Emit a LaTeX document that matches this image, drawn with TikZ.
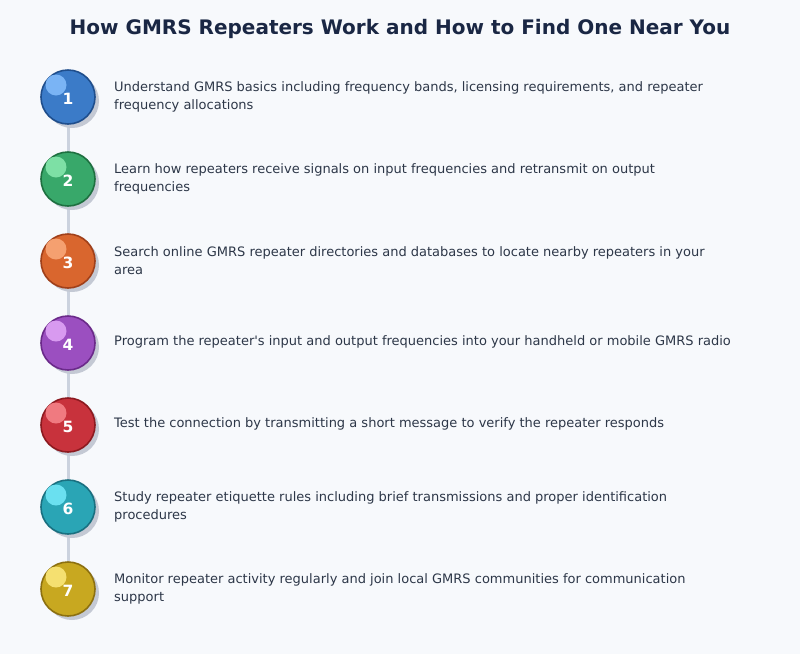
\documentclass[tikz,border=0pt]{standalone}
\usepackage{fontspec}
\setmainfont{DejaVu Sans}
\definecolor{bg}{HTML}{F7F9FC}
\definecolor{titlec}{HTML}{1A2744}
\definecolor{txtc}{HTML}{2D3748}
\definecolor{linec}{HTML}{CBD2DE}
\definecolor{shadowc}{HTML}{C4C9D4}
\definecolor{f1}{HTML}{3B7BC8}\definecolor{b1}{HTML}{1F4E8C}\definecolor{h1}{HTML}{7AB4F5}
\definecolor{f2}{HTML}{38A86A}\definecolor{b2}{HTML}{1E7040}\definecolor{h2}{HTML}{7DE0A5}
\definecolor{f3}{HTML}{D9662E}\definecolor{b3}{HTML}{A0401A}\definecolor{h3}{HTML}{F5A070}
\definecolor{f4}{HTML}{9B4FC0}\definecolor{b4}{HTML}{6B2A8A}\definecolor{h4}{HTML}{D89AF0}
\definecolor{f5}{HTML}{C8323C}\definecolor{b5}{HTML}{8C1A20}\definecolor{h5}{HTML}{F07A80}
\definecolor{f6}{HTML}{2AA5B5}\definecolor{b6}{HTML}{1A7080}\definecolor{h6}{HTML}{6AE0F0}
\definecolor{f7}{HTML}{C8A820}\definecolor{b7}{HTML}{8C7010}\definecolor{h7}{HTML}{F5E070}
\begin{document}
\begin{tikzpicture}[x=1pt,y=-1pt,
  stepcircle/.style={circle,minimum size=54pt,inner sep=0pt,line width=1.6pt},
  shadowcircle/.style={circle,minimum size=54pt,inner sep=0pt,fill=shadowc},
  hilite/.style={circle,minimum size=21pt,inner sep=0pt},
  numlabel/.style={text=white,font=\bfseries\fontsize{15.5}{17}\selectfont},
  steptext/.style={anchor=west,align=left,text=txtc,font=\fontsize{13}{18}\selectfont,inner sep=0pt},
  connector/.style={draw=linec,line width=3pt}]
\useasboundingbox[fill=bg] (0,0) rectangle (800,654);
\node[text=titlec,font=\bfseries\fontsize{20}{23}\selectfont] (title) at (400,28.5) {How GMRS Repeaters Work and How to Find One Near You};
\foreach \i/\y in {1/97,2/179,3/261,4/343,5/425,6/507,7/589}{
  \coordinate (c\i) at (68,\y);
}
\draw[connector] (c1) -- (c7);
\foreach \i in {1,...,7}{
  \node[shadowcircle] (s\i) at ([shift={(4,4)}]c\i) {};
  \node[stepcircle,fill=f\i,draw=b\i] (n\i) at (c\i) {};
  \node[hilite,fill=h\i] (h\i) at ([shift={(-12,-12)}]c\i) {};
  \node[numlabel] (l\i) at ([shift={(0,1.5)}]c\i) {\i};
}
\node[steptext] (t1) at (114,96.5) {Understand GMRS basics including frequency bands, licensing requirements, and repeater\\frequency allocations};
\node[steptext] (t2) at (114,178.5) {Learn how repeaters receive signals on input frequencies and retransmit on output\\frequencies};
\node[steptext] (t3) at (114,260.5) {Search online GMRS repeater directories and databases to locate nearby repeaters in your\\area};
\node[steptext] (t4) at (114,342) {Program the repeater\textquotesingle s input and output frequencies into your handheld or mobile GMRS radio};
\node[steptext] (t5) at (114,424) {Test the connection by transmitting a short message to verify the repeater responds};
\node[steptext] (t6) at (114,506.5) {Study repeater etiquette rules including brief transmissions and proper identification\\procedures};
\node[steptext] (t7) at (114,588.5) {Monitor repeater activity regularly and join local GMRS communities for communication\\support};
\end{tikzpicture}
\end{document}
